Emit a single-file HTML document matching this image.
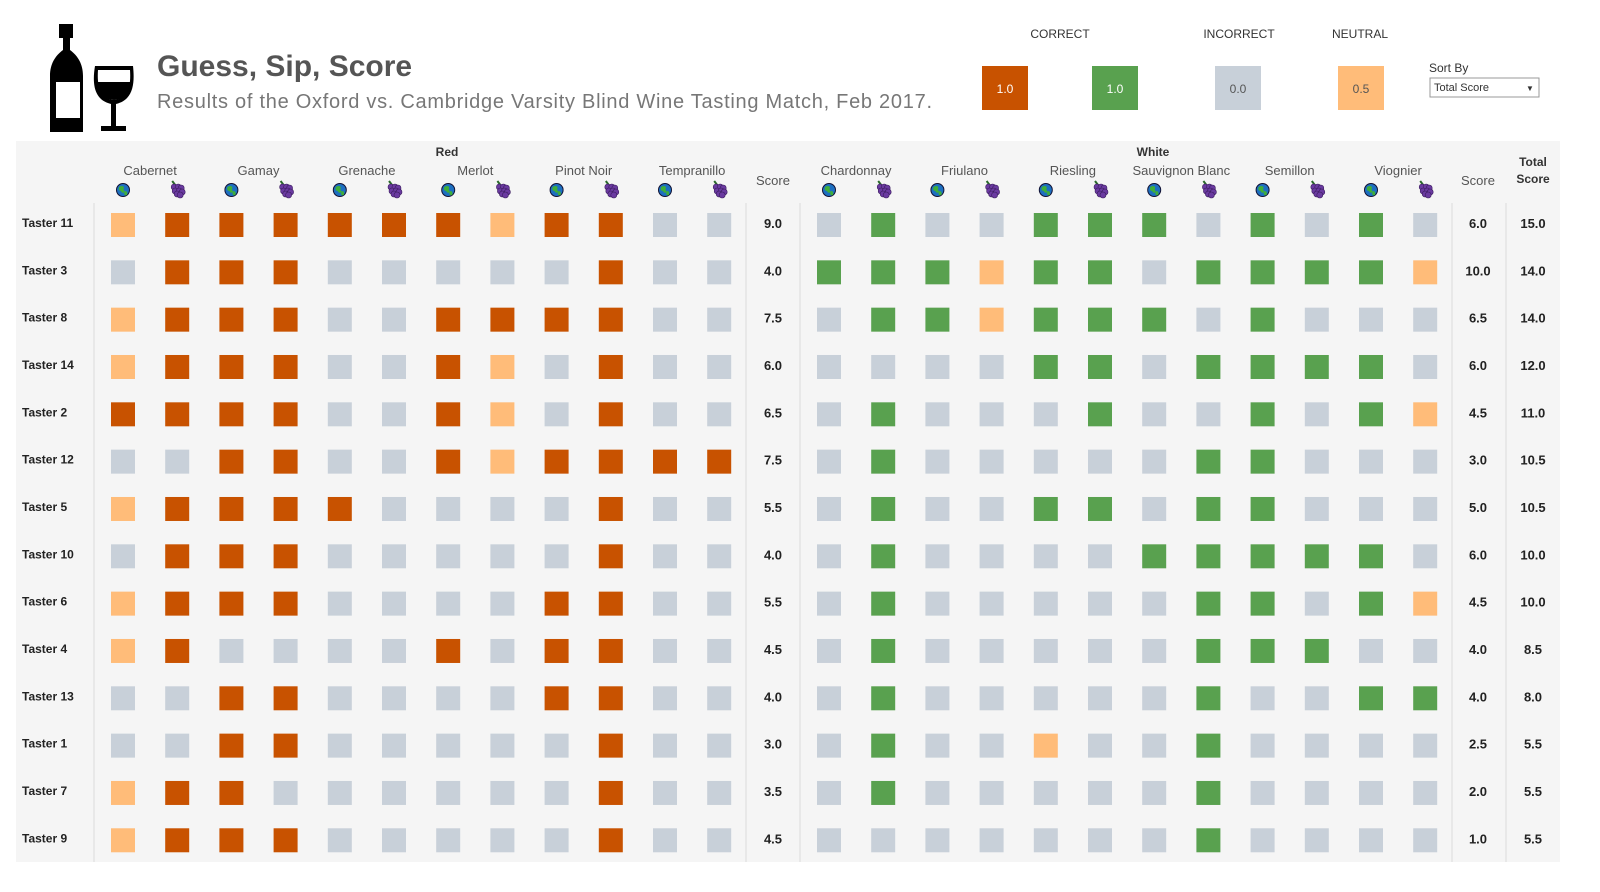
<!DOCTYPE html>
<html><head><meta charset="utf-8"><style>
body{margin:0;background:#fff;}
svg{display:block;font-family:"Liberation Sans",sans-serif;}
</style></head><body>
<svg id="chart" width="1600" height="892" viewBox="0 0 1600 892" xmlns="http://www.w3.org/2000/svg">
<g>
<path d="M59 24h14v14h-3v12c8 6 13 14 13 26v56h-33v-56c0-12 5-20 13-26v-12h-4z" fill="#000"/>
<rect x="56" y="82" width="24" height="36" fill="#fff"/>
<path d="M95 66h38c2 18 0 34-17 38v22h10v5h-25v-5h10v-22c-17-4-19-20-16-38z" fill="#000"/>
<path d="M98 70h32c1 14-1 29-16 30c-15-1-17-16-16-30z" fill="#fff"/>
<path d="M97 82h34c0 10-4 17-17 18c-13-1-17-8-17-18z" fill="#000"/>
</g>
<text x="157" y="76" font-size="30" font-weight="bold" fill="#555">Guess, Sip, Score</text>
<text x="157" y="108" font-size="20" fill="#777" textLength="775">Results of the Oxford vs. Cambridge Varsity Blind Wine Tasting Match, Feb 2017.</text>
<g font-size="12" fill="#333" text-anchor="middle">
<text x="1060" y="38">CORRECT</text><text x="1239" y="38">INCORRECT</text><text x="1360" y="38">NEUTRAL</text>
<rect x="982" y="66" width="46" height="44" fill="#c85200"/>
<text x="1005" y="93" fill="#fff">1.0</text>
<rect x="1092" y="66" width="46" height="44" fill="#59a14f"/>
<text x="1115" y="93" fill="#fff">1.0</text>
<rect x="1215" y="66" width="46" height="44" fill="#c8d0d9"/>
<text x="1238" y="93" fill="#555">0.0</text>
<rect x="1338" y="66" width="46" height="44" fill="#ffbc79"/>
<text x="1361" y="93" fill="#555">0.5</text>
</g>
<text x="1429" y="72" font-size="12" fill="#333">Sort By</text>
<g>
<rect x="1430" y="78" width="109" height="19" fill="#fff" stroke="#999"/>
<text x="1434" y="91" font-size="11" fill="#333">Total Score</text>
<text x="1526" y="91" font-size="8" fill="#333">▼</text>
</g>
<rect x="16" y="141" width="1544" height="721" fill="#f5f5f5"/>
<g id="grid"></g>
</svg>
<script>
const tasters=["Taster 11","Taster 3","Taster 8","Taster 14","Taster 2","Taster 12","Taster 5","Taster 10","Taster 6","Taster 4","Taster 13","Taster 1","Taster 7","Taster 9"];
const redGrapes=["Cabernet","Gamay","Grenache","Merlot","Pinot Noir","Tempranillo"];
const whiteGrapes=["Chardonnay","Friulano","Riesling","Sauvignon Blanc","Semillon","Viognier"];
const redScores=[
[.5,1,1,1,1,1,1,.5,1,1,0,0],
[0,1,1,1,0,0,0,0,0,1,0,0],
[.5,1,1,1,0,0,1,1,1,1,0,0],
[.5,1,1,1,0,0,1,.5,0,1,0,0],
[1,1,1,1,0,0,1,.5,0,1,0,0],
[0,0,1,1,0,0,1,.5,1,1,1,1],
[.5,1,1,1,1,0,0,0,0,1,0,0],
[0,1,1,1,0,0,0,0,0,1,0,0],
[.5,1,1,1,0,0,0,0,1,1,0,0],
[.5,1,0,0,0,0,1,0,1,1,0,0],
[0,0,1,1,0,0,0,0,1,1,0,0],
[0,0,1,1,0,0,0,0,0,1,0,0],
[.5,1,1,0,0,0,0,0,0,1,0,0],
[.5,1,1,1,0,0,0,0,0,1,0,0]];
const whiteScores=[
[0,1,0,0,1,1,1,0,1,0,1,0],
[1,1,1,.5,1,1,0,1,1,1,1,.5],
[0,1,1,.5,1,1,1,0,1,0,0,0],
[0,0,0,0,1,1,0,1,1,1,1,0],
[0,1,0,0,0,1,0,0,1,0,1,.5],
[0,1,0,0,0,0,0,1,1,0,0,0],
[0,1,0,0,1,1,0,1,1,0,0,0],
[0,1,0,0,0,0,1,1,1,1,1,0],
[0,1,0,0,0,0,0,1,1,0,1,.5],
[0,1,0,0,0,0,0,1,1,1,0,0],
[0,1,0,0,0,0,0,1,0,0,1,1],
[0,1,0,0,.5,0,0,1,0,0,0,0],
[0,1,0,0,0,0,0,1,0,0,0,0],
[0,0,0,0,0,0,0,1,0,0,0,0]];

const NS="http://www.w3.org/2000/svg";
const g=document.getElementById('grid');
function mk(tag,attrs,parent){const e=document.createElementNS(NS,tag);for(const k in attrs)e.setAttribute(k,attrs[k]);(parent||g).appendChild(e);return e;}
function txt(x,y,s,attrs){const e=mk('text',Object.assign({x:x,y:y},attrs||{}));e.textContent=s;return e;}
const colStep=54.2, redX0=123, whiteX0=829;
const rowY=i=>223+i*47.33;
const xRed=j=>redX0+j*colStep, xWhite=j=>whiteX0+j*colStep;
const redScoreX=773, whiteScoreX=1478, totalX=1533;
function color(v,white){return v===1?(white?'#59a14f':'#c85200'):v===0.5?'#ffbc79':'#c8d0d9';}
// dividers
[94,746,800,1452,1506].forEach(x=>{const l=mk('line',{x1:x,x2:x,y1:203,y2:862,stroke:'#dcdcdc','stroke-width':1});

});
// headers
let t=txt(447,156,'Red',{'font-size':12,'font-weight':'bold','text-anchor':'middle',fill:'#333'});


t=txt(1153,156,'White',{'font-size':12,'font-weight':'bold','text-anchor':'middle',fill:'#333'});


function icons(x,y){
  const gl=mk('g',{});
  
  
  mk('circle',{cx:x,cy:y,r:6.5,fill:'#1d6fc0',stroke:'#113','stroke-width':1},gl);
  mk('path',{d:`M${x-4} ${y-3}q3-2 5 0q-1 3 1 5q-3 2-4-1q-3 0-2-4zM${x+2} ${y+1}q3 0 2 4q-2 1-3-1z`,fill:'#3fae3a'},gl);
  const gr=mk('g',{});
  
  
  const gx=x+colStep;
  mk('path',{d:`M${gx-5} ${y-9}l3 4`,stroke:'#2a6a2a','stroke-width':2},gr);
  [[-2,-3],[2,-3],[5,-2],[-1,1],[3,1],[6,2],[1,4],[4,5]].forEach(p=>mk('circle',{cx:gx+p[0]-1,cy:y+p[1],r:3,fill:'#6a3aa0',stroke:'#3b1c5e','stroke-width':.6},gr));
}
function groupHeader(names,xf,prefix){
  names.forEach((n,k)=>{const cx=(xf(2*k)+xf(2*k+1))/2;
    const e=txt(cx,175,n,{'font-size':13,'text-anchor':'middle',fill:'#555'});
    
    
    icons(xf(2*k),190);});
}
groupHeader(redGrapes,xRed,'red');
groupHeader(whiteGrapes,xWhite,'white');
[redScoreX,whiteScoreX].forEach(x=>{const e=txt(x,185,'Score',{'font-size':13,'text-anchor':'middle',fill:'#555'});

});
t=txt(totalX,166,'Total',{'font-size':12,'font-weight':'bold','text-anchor':'middle',fill:'#333'});


t=txt(totalX,183,'Score',{'font-size':12,'font-weight':'bold','text-anchor':'middle',fill:'#333'});


// rows
tasters.forEach((name,i)=>{
  const y=rowY(i);
  const lb=txt(22,y+4,name,{'font-size':12,'font-weight':'bold',fill:'#222'});
  
  
  let rs=0,ws=0;
  redScores[i].forEach((v,j)=>{rs+=v;const r=mk('rect',{x:xRed(j)-12,y:y-10,width:24,height:24,fill:color(v,false)});
    
    });
  whiteScores[i].forEach((v,j)=>{ws+=v;const r=mk('rect',{x:xWhite(j)-12,y:y-10,width:24,height:24,fill:color(v,true)});
    
    });
  [[redScoreX,rs,'red-score'],[whiteScoreX,ws,'white-score'],[totalX,rs+ws,'total-score']].forEach(a=>{
    const e=txt(a[0],y+5,a[1].toFixed(1),{'font-size':13,'font-weight':'bold','text-anchor':'middle',fill:'#222'});
    
    });
});
</script>
</body></html>
